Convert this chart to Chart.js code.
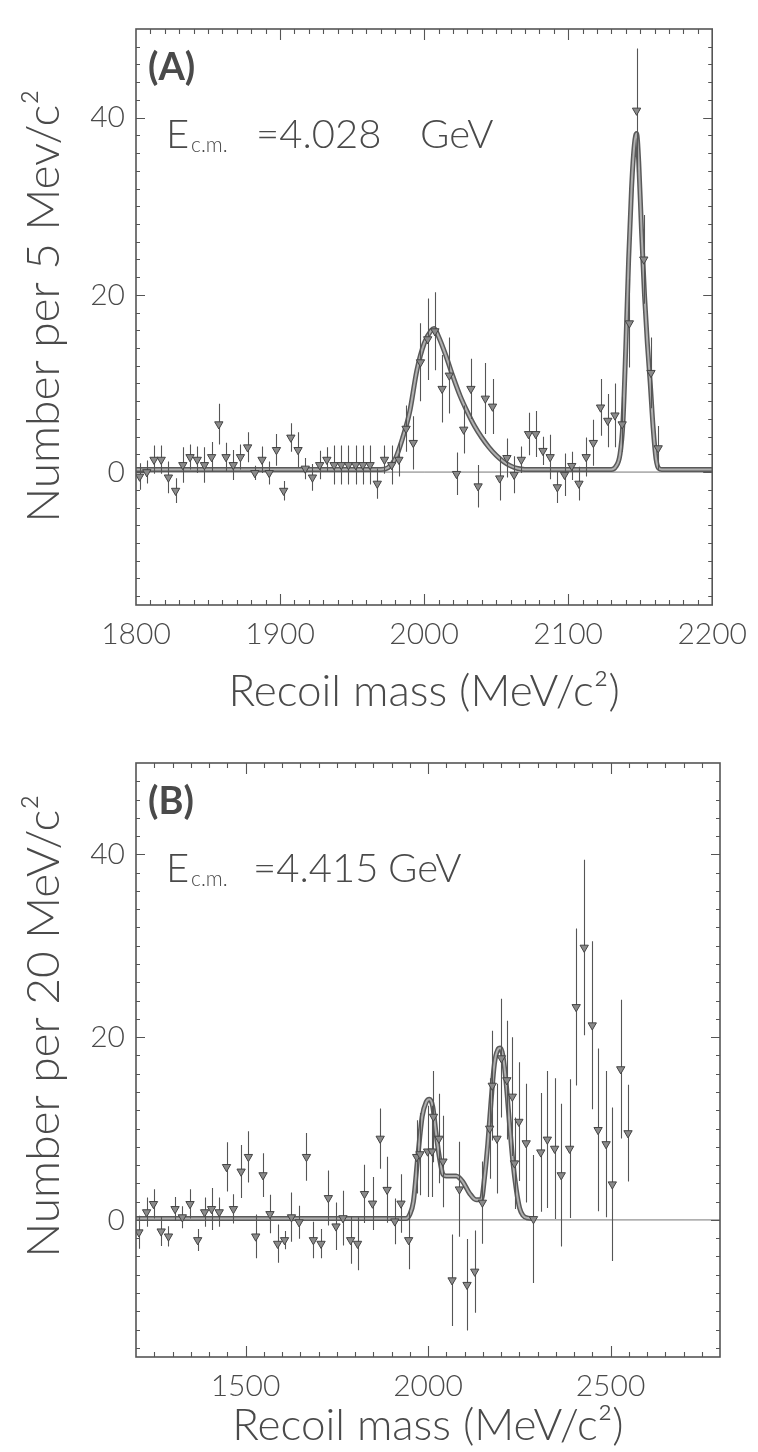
<!DOCTYPE html>
<html><head><meta charset="utf-8">
<script src="https://cdn.jsdelivr.net/npm/chart.js@4.4.0/dist/chart.umd.min.js"></script>
<style>
html,body{margin:0;padding:0;background:#fff;}
canvas{display:block;}
</style></head><body>
<canvas id="cA" width="758" height="720" style="width:758px;height:720px"></canvas>
<canvas id="cB" width="758" height="732" style="width:758px;height:732px"></canvas>
<script>
// ---------- Panel A data (5 MeV bins) ----------
const massA = [1802.5,1807.5,1812.5,1817.5,1822.5,1827.5,1832.5,1837.5,1842.5,1847.5,
  1852.5,1857.5,1862.5,1867.5,1872.5,1877.5,1882.5,1887.5,1892.5,1897.5,
  1902.5,1907.5,1912.5,1917.5,1922.5,1927.5,1932.5,1937.5,1942.5,1947.5,
  1952.5,1957.5,1962.5,1967.5,1972.5,1977.5,1982.5,1987.5,1992.5,1997.5,
  2002.5,2007.5,2012.5,2017.5,2022.5,2027.5,2032.5,2037.5,2042.5,2047.5,
  2052.5,2057.5,2062.5,2067.5,2072.5,2077.5,2082.5,2087.5,2092.5,2097.5,
  2102.5,2107.5,2112.5,2117.5,2122.5,2127.5,2132.5,2137.5,2142.5,2147.5,
  2152.5,2157.5,2162.5];
const countsA = [-0.5,0,1.4,1.4,-0.6,-2.1,0.8,1.7,1.4,0.8,
  1.7,5.4,1.7,0.8,1.7,2.8,-0.1,1.4,-0.1,2.5,
  -2.1,3.9,2.5,0.4,-0.6,0.8,1.4,0.8,0.8,0.8,
  0.8,0.8,0.8,-1.3,1.4,0.8,1.4,4.9,3.3,12.4,
  15.0,15.9,9.4,10.9,-0.2,4.8,9.4,-1.6,8.3,7.4,
  -0.7,1.6,-0.3,1.4,4.3,4.3,2.4,1.7,-1.7,-0.3,
  0.7,-1.3,1.7,3.3,7.3,5.8,6.4,5.4,16.8,40.8,
  24.0,11.2,2.7];
const errA = [1.5,1.3,1.6,1.6,1.8,1.4,2.0,1.4,1.5,2.0,
  1.7,2.3,1.6,1.7,1.4,1.7,0.8,1.5,1.3,1.8,
  1.1,1.6,2.0,1.2,1.5,1.6,1.4,2.2,2.2,2.2,
  2.2,2.2,2.2,1.7,1.6,2.2,1.9,2.6,3.0,4.4,
  4.6,4.4,3.8,4.3,2.4,2.7,3.4,2.4,4.0,3.1,
  2.5,2.2,2.1,1.5,2.4,2.6,1.6,2.5,1.8,2.4,
  1.6,1.9,2.2,2.6,3.2,3.0,3.6,3.1,5.0,7.0,
  5.0,4.0,2.5];
const fitAx = [1800,1970,1975,1980,1985,1990,1995,2000,2005,2007,2010,2015,2020,2025,2030,2035,2040,2045,2050,2055,2060,2065,2070,
  2130,2133,2136,2138,2140,2142,2144,2146,2147.5,2149,2151,2153,2155,2157,2159,2161,2163,2165,2200];
const fitAy = [0.3,0.3,0.5,1.5,3.8,6.8,11.5,14.5,16.0,16.2,15.3,13.2,10.8,8.6,6.8,5.2,3.9,2.8,1.9,1.2,0.7,0.4,0.3,
  0.3,0.6,2,5.5,14,24,32,37,38.2,35,27,20,14.5,10,5,1.5,0.4,0.3,0.3];

// ---------- Panel B data (20 MeV bins) ----------
const massB = [1208,1229,1248,1269,1289,1307,1327,1348,1369,1388,
  1407,1428,1448,1467,1488,1508,1528,1548,1567,1588,
  1607,1626,1647,1667,1686,1707,1727,1748,1767,1788,
  1807,1826,1848,1869,1888,1909,1926,1947,1969,1978,
  1999,2011,2015,2030,2041,2066,2086,2107,2128,2149,
  2169,2176,2189,2201,2216,2231,2237,2249,2269,2289,
  2309,2327,2347,2365,2388,2406,2428,2450,2466,2488,
  2505,2528,2548];
const countsB = [-1.35,0.85,1.75,-1.25,-1.8,1.2,0.3,1.75,-2.2,0.85,
  1.2,0.85,5.8,1.2,5.3,6.9,-1.8,4.9,0.65,-2.6,
  -2.2,0.3,-0.25,6.9,-2.2,-2.6,2.4,-0.7,0.2,-2.2,
  -2.6,2.85,1.8,8.9,3.3,-0.15,1.8,-2.2,6.9,7.2,
  7.5,7.5,11.3,8.9,6.4,-6.6,3.35,-7.1,-5.65,1.9,
  10.0,14.7,8.9,17.7,15.3,13.5,6.2,10.75,8.4,0.1,
  7.4,8.8,7.8,4.9,7.8,23.3,29.8,21.3,9.85,8.3,
  3.9,16.5,9.5];
const errB = [1.8,1.6,1.6,1.6,1.1,1.3,1.2,1.6,1.2,1.6,
  2.3,1.6,2.7,1.6,2.9,2.8,2.4,2.4,2.1,2.1,
  1.0,2.7,1.8,2.6,2.0,1.6,3.0,2.6,3.0,2.6,
  2.9,3.2,2.9,3.3,3.6,2.5,3.2,3.2,4.0,4.5,
  5.0,5.0,5.0,4.9,5.0,5.0,5.2,5.0,4.5,4.5,
  5.5,6.0,6.0,6.5,6.5,6.5,5.0,6.5,6.5,7.0,
  6.5,7.5,7.7,7.8,7.6,8.6,9.6,9.2,8.9,8.0,
  8.4,7.6,5.3];
const fitBx = [1200,1940,1950,1960,1972,1984,1995,2004,2013,2022,2031,2041,2050,2077,2095,2114,2132,2146,2155,2164,
  2173,2182,2191,2198,2205,2214,2224,2233,2242,2251,2260,2274,2290];
const fitBy = [0.15,0.15,0.6,2.0,6.9,11.3,12.9,13.2,12.4,9.5,6.9,5.0,4.8,4.8,4.2,2.9,2.2,2.2,4.7,8.4,
  13.1,17.1,18.6,18.8,18.0,15.0,10.2,6.2,3.3,1.3,0.5,0.2,0.15];

// ---------- Axis tick labels ----------
const xTicksA = [1800,1900,2000,2100,2200];
const xTicksB = [1500,2000,2500];
const yTicks = [0,20,40];

const FONT = "Lato, 'Open Sans', 'DejaVu Sans', sans-serif";
const TXT = '#4a4a4a';

const zip = (xs, ys) => xs.slice(0, Math.min(xs.length, ys.length)).map((v,i)=>({x:v, y:ys[i]}));

const errorBarPlugin = {
  id: 'errbars',
  beforeDatasetDraw(chart, args) {
    const ds = chart.data.datasets[args.index];
    if (!ds.errors) return;
    const {ctx, chartArea:a, scales:{x,y}} = chart;
    ctx.save();
    ctx.beginPath(); ctx.rect(a.left, a.top, a.right-a.left, a.bottom-a.top); ctx.clip();
    ctx.strokeStyle = '#555'; ctx.lineWidth = 1.1;
    ctx.beginPath();
    ds.data.forEach((p,i)=>{
      const e = ds.errors[i] || 0;
      const px = Math.round(x.getPixelForValue(p.x)) + 0.5;
      ctx.moveTo(px, y.getPixelForValue(p.y - e));
      ctx.lineTo(px, y.getPixelForValue(p.y + e));
    });
    ctx.stroke();
    ctx.restore();
  }
};

const framePlugin = {
  id: 'frame',
  afterDatasetsDraw(chart, args, o) {
    const {ctx, chartArea:a, scales:{x,y}} = chart;
    ctx.save();
    ctx.strokeStyle = '#555';
    ctx.lineWidth = 1.6;
    ctx.strokeRect(a.left, a.top, a.right-a.left, a.bottom-a.top);
    ctx.lineWidth = 1.1;
    ctx.beginPath();
    const nx = Math.round((x.max - x.min)/o.xMinor);
    for (let i=1;i<nx;i++){
      const v = x.min + i*o.xMinor;
      const px = Math.round(x.getPixelForValue(v))+0.5;
      const L = o.xMajor.includes(v) ? 11 : 5;
      ctx.moveTo(px, a.bottom); ctx.lineTo(px, a.bottom-L);
      ctx.moveTo(px, a.top); ctx.lineTo(px, a.top+L);
    }
    for (let v=Math.ceil(y.min/2)*2; v<y.max; v+=2){
      if (v<=y.min) continue;
      const py = Math.round(y.getPixelForValue(v))+0.5;
      const L = yTicks.includes(v) ? 9 : 4;
      ctx.moveTo(a.left, py); ctx.lineTo(a.left+L, py);
      ctx.moveTo(a.right, py); ctx.lineTo(a.right-L, py);
    }
    ctx.stroke();
    // panel texts
    ctx.fillStyle = TXT;
    ctx.textBaseline = 'alphabetic';
    ctx.textAlign = 'left';
    ctx.font = "bold 38px " + FONT;
    ctx.fillText(o.tag, a.left+12, a.top+51);
    ctx.font = "300 40px " + FONT;
    ctx.fillText('E', a.left+30, a.top+119);
    ctx.font = "300 21px " + FONT;
    ctx.fillText('c.m.', a.left+55, a.top+123);
    ctx.font = "300 40px " + FONT;
    ctx.fillText(o.energy, a.left+o.eqX, a.top+119);
    ctx.fillText('GeV', a.left+o.gevX, a.top+119);
    // y-axis title
    ctx.save();
    ctx.translate(o.yTitleX, o.yTitleY);
    ctx.rotate(-Math.PI/2);
    ctx.textAlign = 'center';
    ctx.textBaseline = 'middle';
    ctx.font = "300 46px " + FONT;
    ctx.fillText(o.yTitle, 0, 0);
    ctx.restore();
    ctx.restore();
  }
};

function makeChart(id, cfg) {
  const datasets = [
    {type:'line', data:[{x:cfg.xmin,y:0},{x:cfg.xmax,y:0}], borderColor:'#777', borderWidth:1, pointRadius:0, order:4},
    {type:'line', data:zip(cfg.fitX, cfg.fitY), borderColor:'#5a5a5a', borderWidth:5, pointRadius:0, cubicInterpolationMode:'monotone', order:3},
    {type:'line', data:zip(cfg.fitX, cfg.fitY), borderColor:'#b0b0b0', borderWidth:2, pointRadius:0, cubicInterpolationMode:'monotone', order:2},
    {type:'scatter', data:zip(cfg.mass, cfg.counts), errors:cfg.err, showLine:false,
      pointStyle:'triangle', rotation:180, pointRadius:4.8, backgroundColor:'#8a8a8a', borderColor:'#444', borderWidth:1, order:1}
  ];
  return new Chart(document.getElementById(id), {
    type:'scatter',
    data:{datasets},
    plugins:[errorBarPlugin, framePlugin],
    options:{
      responsive:false, animation:false, devicePixelRatio:1,
      layout:{padding:{left:0, right:38, top:cfg.padTop, bottom:0}},
      plugins:{legend:{display:false}, tooltip:{enabled:false},
        frame:{xMinor:cfg.xMinor, xMajor:cfg.xMajor, tag:cfg.tag, energy:cfg.energy, eqX:cfg.eqX, gevX:cfg.gevX,
          yTitle:cfg.yTitle, yTitleX:44, yTitleY:cfg.yTitleY}},
      scales:{
        x:{type:'linear', min:cfg.xmin, max:cfg.xmax,
          grid:{display:false, drawTicks:false}, border:{display:false},
          afterBuildTicks:(s)=>{ s.ticks = cfg.xTicks.map(v=>({value:v})); },
          afterFit:(s)=>{ s.height = cfg.xAxisH; },
          ticks:{font:{family:FONT, size:30, weight:'300'}, color:TXT, padding:11, maxRotation:0, autoSkip:false,
            callback:(v)=>String(v)},
          title:{display:true, text:'Recoil mass (MeV/c²)', font:{family:FONT, size:44, weight:'300'}, color:TXT, padding:{top:0,bottom:cfg.xTitlePad}}
        },
        y:{type:'linear', min:-15, max:50,
          grid:{display:false, drawTicks:false}, border:{display:false},
          afterBuildTicks:(s)=>{ s.ticks = yTicks.map(v=>({value:v})); },
          afterFit:(s)=>{ s.width = 136; },
          ticks:{font:{family:FONT, size:30, weight:'300'}, color:TXT, padding:11, callback:(v)=>String(v)}
        }
      }
    }
  });
}

makeChart('cA', {xmin:1800, xmax:2200, xTicks:xTicksA, xMinor:10, xMajor:[1900,2000,2100],
  mass:massA, counts:countsA, err:errA, fitX:fitAx, fitY:fitAy,
  padTop:9, xAxisH:115, xTitlePad:2, yTitle:'Number per 5 Mev/c²', yTitleY:306, tag:'(A)',
  energy:'=4.028', eqX:120, gevX:284});
makeChart('cB', {xmin:1200, xmax:2800, xTicks:xTicksB, xMinor:50, xMajor:[1500,2000,2500],
  mass:massB, counts:countsB, err:errB, fitX:fitBx, fitY:fitBy,
  padTop:43, xAxisH:95, xTitlePad:0, yTitle:'Number per 20 MeV/c²', yTitleY:306, tag:'(B)',
  energy:'=4.415', eqX:117, gevX:252});
</script>
</body></html>
